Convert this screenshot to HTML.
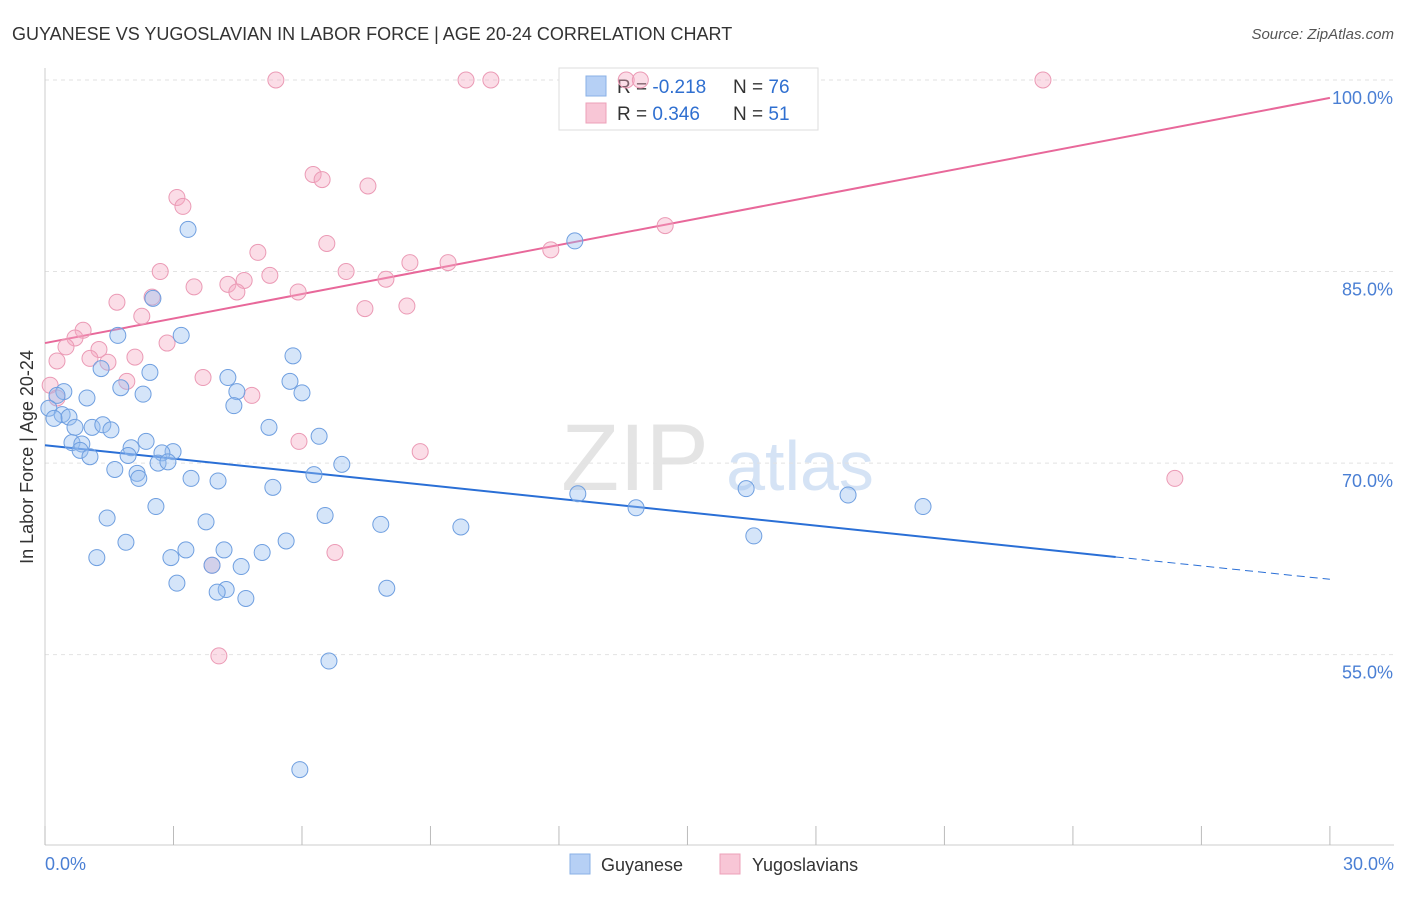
<!DOCTYPE html>
<html><head><meta charset="utf-8"><style>
body{margin:0;background:#fff;font-family:"Liberation Sans",sans-serif;}
svg text{font-family:"Liberation Sans",sans-serif;}
</style></head><body>
<svg width="1406" height="892" xmlns="http://www.w3.org/2000/svg">
<text x="12" y="40" font-size="18" fill="#333">GUYANESE VS YUGOSLAVIAN IN LABOR FORCE | AGE 20-24 CORRELATION CHART</text>
<text x="1394" y="39" font-size="15" fill="#555" text-anchor="end" font-style="italic">Source: ZipAtlas.com</text>
<g><text x="635" y="490" font-size="95" fill="#e4e4e4" text-anchor="middle" font-family="Liberation Serif">ZIP</text><text x="800" y="490" font-size="70" fill="#d5e3f5" text-anchor="middle">atlas</text></g>
<g id="grid"></g><g id="axes"></g>
<g>
<rect x="559" y="68" width="259" height="62" fill="#fff" stroke="#ddd"/>
<rect x="586" y="76" width="20" height="20" fill="#b6d0f5" stroke="#8ab0e6"/>
<rect x="586" y="103" width="20" height="20" fill="#f8c6d6" stroke="#eda0b8"/>
<text x="617" y="93" font-size="19" fill="#333">R = <tspan fill="#2f6fd0">-0.218</tspan></text>
<text x="733" y="93" font-size="19" fill="#333">N = <tspan fill="#2f6fd0">76</tspan></text>
<text x="617" y="120" font-size="19" fill="#333">R = <tspan fill="#2f6fd0"> 0.346</tspan></text>
<text x="733" y="120" font-size="19" fill="#333">N = <tspan fill="#2f6fd0">51</tspan></text>
</g>
<g id="trends"></g><g id="pts"></g>
<text transform="translate(33,457) rotate(-90)" font-size="18" fill="#333" text-anchor="middle">In Labor Force | Age 20-24</text>
<g>
<rect x="570" y="854" width="20" height="20" fill="#b6d0f5" stroke="#8ab0e6"/>
<text x="601" y="871" font-size="18" fill="#333">Guyanese</text>
<rect x="720" y="854" width="20" height="20" fill="#f8c6d6" stroke="#eda0b8"/>
<text x="752" y="871" font-size="18" fill="#333">Yugoslavians</text>
</g>
</svg>
<script>
const yTicks=[55,70,85,100];
const xTickLabels=["0.0%","30.0%"];
const blueX=[3.34,12.37,2.52,1.70,3.18,5.79,1.31,2.45,4.27,5.72,1.77,0.44,0.28,2.29,4.48,6.0,0.98,0.09,4.41,0.40,0.56,0.21,0.70,1.10,1.35,1.54,5.23,6.40,2.36,0.63,0.86,0.82,2.01,1.05,1.94,2.99,2.73,2.64,2.87,6.93,1.63,2.15,2.19,6.28,3.41,4.04,5.32,12.44,16.37,18.75,2.59,13.80,20.50,1.45,6.54,3.76,7.84,9.71,1.89,16.55,5.63,3.29,4.18,5.07,1.21,2.94,3.90,4.58,3.08,7.98,4.23,4.02,4.69,6.63,5.95];
const blueY=[88.3,87.4,82.9,80.0,80.0,78.4,77.4,77.1,76.7,76.4,75.9,75.6,75.3,75.4,75.6,75.5,75.1,74.3,74.5,73.8,73.6,73.5,72.8,72.8,73.0,72.6,72.8,72.1,71.7,71.6,71.5,71.0,71.2,70.5,70.6,70.9,70.8,70.0,70.1,69.9,69.5,69.2,68.8,69.1,68.8,68.6,68.1,67.6,68.0,67.5,66.6,66.5,66.6,65.7,65.9,65.4,65.2,65.0,63.8,64.3,63.9,63.2,63.2,63.0,62.6,62.6,62.0,61.9,60.6,60.2,60.1,59.9,59.4,54.5,46.0];
const pinkX=[5.39,9.83,10.41,13.57,13.9,23.30,6.26,6.47,7.54,3.08,3.22,14.48,6.58,4.97,11.81,8.52,9.41,2.69,7.03,5.25,7.96,4.65,4.27,3.48,4.48,5.91,2.50,1.68,8.45,7.47,2.26,0.89,0.70,2.85,0.49,1.26,2.10,1.05,1.47,0.28,3.69,1.91,0.12,4.83,0.28,5.93,8.76,26.38,6.77,3.90,4.06];
const pinkY=[100,100,100,100,100,100,92.6,92.2,91.7,90.8,90.1,88.6,87.2,86.5,86.7,85.7,85.7,85.0,85.0,84.7,84.4,84.3,84.0,83.8,83.4,83.4,83.0,82.6,82.3,82.1,81.5,80.4,79.8,79.4,79.1,78.9,78.3,78.2,77.9,78.0,76.7,76.4,76.1,75.3,75.1,71.7,70.9,68.8,63.0,62.0,54.9];
const blueTrend=[71.4,-0.35];
const pinkTrend=[79.4,0.64];
const X=v=>45+v*42.83, Y=v=>80+(100-v)*12.77;
const NS="http://www.w3.org/2000/svg";
function mk(p,t,a){const e=document.createElementNS(NS,t);for(const k in a)e.setAttribute(k,a[k]);document.getElementById(p).appendChild(e);return e;}
yTicks.forEach(t=>{
 const l=mk('grid','line',{x1:45,x2:1394,y1:Y(t),y2:Y(t),stroke:'#e2e2e2','stroke-dasharray':'4,4'});
 
 
 const tx=mk('grid','text',{x:1393,y:Y(t)+24,'font-size':18,fill:'#4a7fd4','text-anchor':'end'});
 tx.textContent=t.toFixed(1)+'%';
 
 
});
let ax=mk('axes','line',{x1:45,x2:45,y1:68,y2:845,stroke:'#ccc'});


ax=mk('axes','line',{x1:45,x2:1394,y1:845,y2:845,stroke:'#ccc'});


for(let i=0;i<=10;i++){const t=mk('axes','line',{x1:X(i*3),x2:X(i*3),y1:826,y2:845,stroke:'#bbb'});
 
 }
[[0,'start',45],[30,'end',1394]].forEach((d,i)=>{const t=mk('axes','text',{x:d[2],y:870,'font-size':18,fill:'#4a7fd4','text-anchor':d[1]});t.textContent=xTickLabels[i];
 
 });
let tl=mk('trends','line',{x1:X(0),y1:Y(blueTrend[0]),x2:X(25),y2:Y(blueTrend[0]+blueTrend[1]*25),stroke:'#2a6fd6','stroke-width':2});


tl=mk('trends','line',{x1:X(25),y1:Y(blueTrend[0]+blueTrend[1]*25),x2:X(30),y2:Y(blueTrend[0]+blueTrend[1]*30),stroke:'#2a6fd6','stroke-width':1,'stroke-dasharray':'8,5'});


tl=mk('trends','line',{x1:X(0),y1:Y(pinkTrend[0]),x2:X(30),y2:Y(pinkTrend[0]+pinkTrend[1]*30),stroke:'#e8689a','stroke-width':2});


pinkX.forEach((x,i)=>{const c=mk('pts','circle',{cx:X(x),cy:Y(pinkY[i]),r:8,fill:'rgba(244,170,196,0.4)',stroke:'#eb9ab5','stroke-width':1});
 
 });
blueX.forEach((x,i)=>{const c=mk('pts','circle',{cx:X(x),cy:Y(blueY[i]),r:8,fill:'rgba(150,190,240,0.4)',stroke:'#6f9fe0','stroke-width':1});
 
 });
</script>
</body></html>
